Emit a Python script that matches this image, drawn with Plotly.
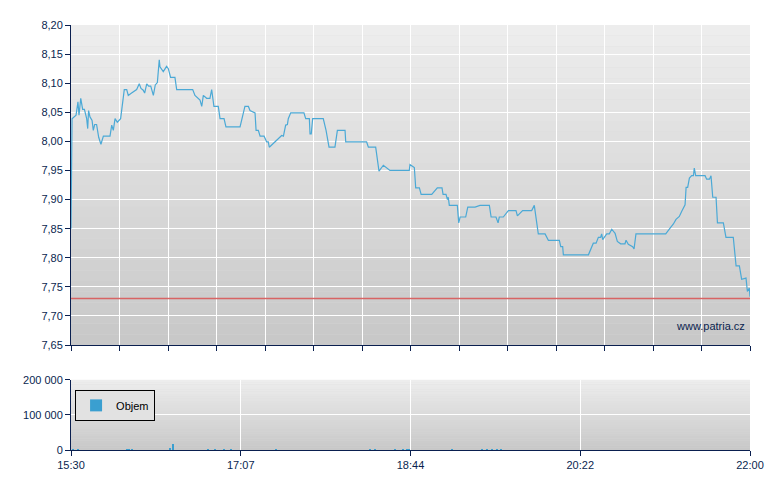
import plotly.graph_objects as go
from plotly.subplots import make_subplots

# price series: minutes after 15:30, price
t_price = [0,0,0.6,2.9,4.0,4.6,5.6,6.7,7.7,9.0,9.6,10.1,10.9,12.1,12.8,13.6,14.7,15.9,17.2,18.6,22.4,23.4,24.3,25.3,26.6,28.5,
 30.6,32.0,32.9,34.8,36.8,37.7,39.2,40.2,41.5,42.3,43.5,44.6,45.8,47.3,48.4,49.6,50.7,51.1,53.0,54.9,55.9,57.2,59.7,60.7,69.9,
 71.2,74.1,75.1,76.0,77.9,79.8,80.8,82.1,84.6,85.6,87.9,89.0,97.1,99.9,101.9,102.8,105.7,106.3,107.6,108.6,110.9,112.4,113.3,
 113.9,121.0,122.0,123.3,124.3,124.8,126.2,133.8,134.8,136.9,137.3,138.0,138.8,144.9,146.5,148.2,151.6,153.0,157.4,157.8,169.8,
 170.8,175.0,176.9,179.4,183.2,194.3,194.7,197.2,198.0,200.1,201.1,207.2,210.4,213.1,213.7,215.4,216.2,216.7,217.3,221.9,222.7,
 223.5,226.7,227.9,232.1,234.9,240.3,241.3,244.1,245.3,246.0,248.3,251.2,255.6,256.4,259.4,264.6,266.1,268.4,272.3,274.2,280.5,
 281.3,282.4,282.8,297.2,300.0,301.6,302.9,304.2,304.8,305.4,307.7,309.2,310.6,312.5,313.8,315.7,318.2,318.8,320.1,322.6,323.4,
 324.5,341.6,344.1,346.0,347.5,349.4,350.8,352.7,353.3,354.2,355.2,356.5,357.5,358.0,358.8,364.2,365.1,366.7,367.6,368.6,370.5,
 371.3,374.7,376.2,380.4,382.0,383.9,385.2,387.7,388.5,389.6,390]
price = [7.85,7.85,8.039,8.045,8.068,8.045,8.074,8.055,8.055,8.039,8.022,8.053,8.042,8.036,8.019,8.029,8.029,8.007,7.995,8.009,8.009,
 8.028,8.019,8.039,8.033,8.039,8.089,8.089,8.079,8.083,8.087,8.089,8.099,8.091,8.088,8.083,8.099,8.095,8.095,8.079,8.097,8.101,
 8.140,8.128,8.120,8.129,8.125,8.110,8.110,8.089,8.089,8.079,8.071,8.060,8.079,8.074,8.074,8.089,8.060,8.060,8.039,8.039,8.025,
 8.025,8.060,8.060,8.053,8.049,8.019,8.019,8.009,8.009,7.999,7.999,7.990,8.010,8.009,8.028,8.029,8.039,8.049,8.049,8.039,8.039,
 8.013,8.013,8.039,8.039,8.019,7.990,7.990,8.019,8.019,7.999,7.999,7.990,7.990,7.949,7.959,7.950,7.950,7.960,7.955,7.920,7.920,
 7.909,7.909,7.920,7.920,7.909,7.909,7.900,7.904,7.890,7.890,7.860,7.870,7.870,7.887,7.887,7.890,7.890,7.870,7.870,7.860,7.870,
 7.870,7.881,7.881,7.872,7.881,7.881,7.890,7.841,7.841,7.830,7.830,7.819,7.819,7.805,7.805,7.825,7.825,7.835,7.835,7.841,7.831,
 7.841,7.841,7.849,7.842,7.828,7.824,7.824,7.830,7.823,7.819,7.815,7.841,7.841,7.851,7.858,7.866,7.871,7.880,7.891,7.921,7.921,
 7.937,7.941,7.941,7.954,7.941,7.941,7.935,7.935,7.941,7.904,7.904,7.860,7.860,7.835,7.835,7.786,7.786,7.763,7.765,7.742,7.748,7.733]
ref_price = 7.73

t_vol = [1, 4, 32, 33.5, 35, 57, 58.6, 79, 83, 88, 92, 118, 172, 175, 186, 191, 193, 194, 219, 236, 239, 242, 245, 247]
volume = [3000, 2000, 2500, 2000, 2500, 6000, 17000, 2000, 2000, 2000, 2500, 2500, 2500, 2500, 2000, 2000, 2500, 2000, 2500,
          2000, 2000, 2500, 2000, 2000]

bottom_ticks = [0, 97.5, 195, 292.5, 390]
bottom_labels = ["15:30", "17:07", "18:44", "20:22", "22:00"]
top_ticks = [i * 390 / 14 for i in range(15)]

NAVY = "#0a1f4f"
fig = make_subplots(rows=2, cols=1, row_heights=[0.75, 0.25], vertical_spacing=0.08)
fig.add_trace(go.Scatter(x=t_price, y=price, mode="lines", line=dict(color="#4ba9d6", width=1.2),
                         showlegend=False, hoverinfo="skip"), 1, 1)
fig.add_trace(go.Scatter(x=[0, 390], y=[ref_price, ref_price], mode="lines",
                         line=dict(color="#d86464", width=1.3), showlegend=False), 1, 1)
fig.add_trace(go.Bar(x=t_vol, y=volume, width=0.8, marker=dict(color="#3a9fd0", line=dict(width=0)),
                     name="Objem"), 2, 1)

shapes = []
n = 30
for yref, xref in (("y domain", "x domain"), ("y2 domain", "x2 domain")):
    for i in range(n):
        c = int(238 - (238 - 200) * (i + 0.5) / n)
        shapes.append(dict(type="rect", xref=xref, yref=yref, x0=0, x1=1, y0=1 - (i + 1) / n, y1=1 - i / n,
                           fillcolor=f"rgb({c},{c},{c})", line=dict(width=0), layer="below"))

axis_common = dict(showline=True, linecolor=NAVY, linewidth=1, gridcolor="white", gridwidth=1.3,
                   ticks="outside", tickcolor=NAVY, ticklen=5, zeroline=False, automargin=False,
                   tickfont=dict(family="Liberation Sans", size=11, color=NAVY))
fig.update_xaxes(**axis_common, range=[0, 390], tickvals=top_ticks, showticklabels=False, row=1, col=1)
fig.update_xaxes(**axis_common, range=[0, 390], tickvals=bottom_ticks, ticktext=bottom_labels, row=2, col=1)
fig.update_yaxes(**axis_common, range=[7.65, 8.20], dtick=0.05, tickformat=".2f", row=1, col=1)
fig.update_yaxes(**axis_common, range=[0, 200000], tickvals=[0, 100000, 200000], tickformat=",d", row=2, col=1)
fig.update_layout(
    width=780, height=490, margin=dict(l=63, r=38, t=17, b=48),
    paper_bgcolor="white", plot_bgcolor="#dcdcdc", separators=", ",
    shapes=shapes, bargap=0,
    yaxis=dict(domain=[0.247, 1]), yaxis2=dict(domain=[0, 0.165]),
    legend=dict(x=0.006, y=0.105, xanchor="left", yanchor="middle", bgcolor="#e2e2e2",
                bordercolor="black", borderwidth=1, itemwidth=30,
                font=dict(family="Liberation Sans", size=11, color="black")),
    annotations=[dict(text="www.patria.cz", xref="x", yref="y", x=388, y=7.683, xanchor="right",
                      showarrow=False, font=dict(family="Liberation Sans", size=11, color=NAVY))],
)
fig.write_html("out.html")
